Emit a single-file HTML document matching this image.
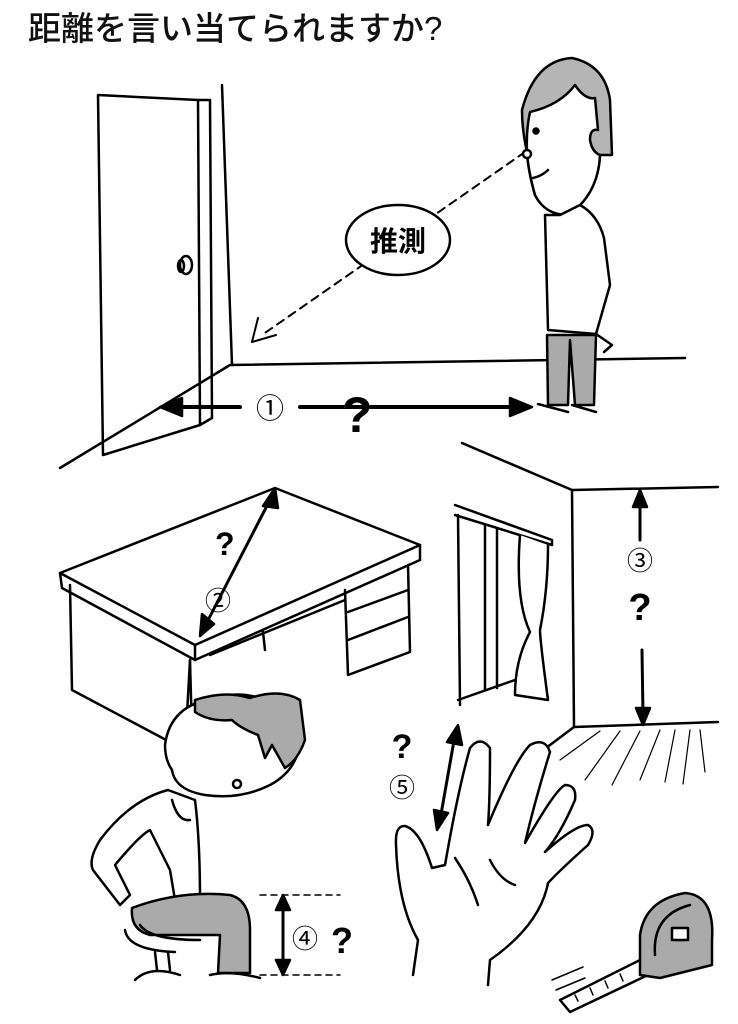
<!DOCTYPE html>
<html><head><meta charset="utf-8">
<style>
html,body{margin:0;padding:0;background:#fff;}
body{width:738px;height:1024px;overflow:hidden;position:relative;}
svg{position:absolute;left:0;top:0;}
text{font-family:"Liberation Sans","Noto Sans CJK JP",sans-serif;}
</style></head><body>
<svg width="738" height="1024" viewBox="0 0 738 1024" fill="none" stroke="#000" stroke-width="2.5" stroke-linecap="round" stroke-linejoin="round">
<text x="28" y="40" font-size="33" fill="#111" stroke="none" font-weight="500">距離を言い当てられますか?</text>

<!-- room top -->
<line x1="222" y1="85" x2="232" y2="365"/>
<polyline points="60,468 230,365 685,358"/>
<!-- door -->
<polygon points="98,95 198,100 200,425 103,455" />
<line x1="198" y1="100" x2="210" y2="100"/>
<line x1="210" y1="100" x2="212" y2="418"/>
<line x1="200" y1="425" x2="212" y2="418"/>
<ellipse cx="186" cy="265" rx="6" ry="9"/>
<ellipse cx="181" cy="266" rx="3" ry="6"/>

<!-- dashed line -->
<line x1="525" y1="152" x2="262" y2="335" stroke-dasharray="8,6" stroke-width="2"/>
<polyline points="258,318 252,342 276,335" stroke-width="2"/>
<ellipse cx="398" cy="240" rx="52" ry="35" fill="#fff"/>
<text x="398" y="251" font-size="28" font-weight="bold" text-anchor="middle" fill="#000" stroke="none">推測</text>

<!-- person standing -->
<path d="M522,110 Q535,60 572,58 Q605,65 610,100 L612,155 L600,155 Q598,195 568,215 Q545,215 535,195 Q528,170 527,152 Q522,130 522,110 Z" fill="#b5b5b5"/>
<path d="M530,112 Q560,105 575,85 Q585,100 595,98 L598,130 Q590,128 590,140 Q592,152 600,155 Q598,195 568,215 Q545,215 535,195 Q528,170 527,152 Q526,130 530,112 Z" fill="#fff"/>
<circle cx="536" cy="131" r="2.5" fill="#000"/>
<circle cx="527" cy="154" r="4" fill="#fff"/>
<path d="M533,178 Q542,176 548,170"/>
<path d="M545,215 L548,330 L596,334 L610,285 L604,238 Q598,215 580,205 L560,215 Z" fill="#fff"/>
<path d="M547,335 L548,405 L568,405 L570,340 L575,405 L594,405 L596,335 Z" fill="#aaa"/>
<path d="M596,334 L612,345 L604,352" />
<path d="M538,404 L568,412 M572,405 L596,412"/>

<!-- arrow 1 -->
<line x1="172" y1="407" x2="240" y2="407" stroke-width="4"/>
<polygon points="160,407 182,398 182,416" fill="#000"/>
<line x1="300" y1="407" x2="520" y2="407" stroke-width="4"/>
<polygon points="532,407 510,398 510,416" fill="#000"/>
<text x="270" y="418" font-size="28" text-anchor="middle" fill="#000" stroke="none">①</text>
<text x="357" y="432" font-size="50" font-weight="bold" text-anchor="middle" fill="#000" stroke="none">?</text>

<!-- desk -->
<polygon points="60,573 275,488 420,545 195,645" fill="#fff"/>
<polyline points="60,573 62,588 195,660 420,560 420,545"/>
<line x1="195" y1="645" x2="195" y2="660"/>
<polyline points="70,585 72,690 185,750 190,660"/>
<line x1="190" y1="660" x2="192" y2="735"/>
<polyline points="345,590 348,675 410,652 408,565"/>
<line x1="348" y1="612" x2="408" y2="590"/>
<line x1="348" y1="640" x2="408" y2="617"/>
<line x1="263" y1="632" x2="265" y2="650"/>
<line x1="210" y1="655" x2="345" y2="600"/>
<line x1="204" y1="628" x2="272" y2="496" stroke-width="3"/>
<polygon points="200,636 202,614 214,624" fill="#000"/>
<polygon points="275,488 263,506 278,508" fill="#000"/>
<text x="215" y="555" font-size="32" font-weight="bold" fill="#000" stroke="none">?</text>
<text x="218" y="610" font-size="26" text-anchor="middle" fill="#000" stroke="none">②</text>

<!-- room corner right -->
<polyline points="462,443 572,490 718,487"/>
<line x1="572" y1="490" x2="574" y2="727"/>
<line x1="574" y1="727" x2="718" y2="722"/>
<line x1="574" y1="727" x2="530" y2="760"/>
<g stroke-width="1.2">
<line x1="600" y1="731" x2="560" y2="760"/><line x1="620" y1="731" x2="585" y2="780"/>
<line x1="640" y1="731" x2="612" y2="785"/><line x1="660" y1="730" x2="640" y2="780"/>
<line x1="675" y1="730" x2="665" y2="782"/><line x1="690" y1="730" x2="683" y2="784"/>
<line x1="700" y1="730" x2="705" y2="772"/>
</g>
<polyline points="455,505 552,540 552,545 455,515"/>
<line x1="458" y1="515" x2="460" y2="705"/>
<line x1="485" y1="525" x2="485" y2="690"/>
<line x1="497" y1="528" x2="497" y2="688"/>
<path d="M520,535 Q515,600 530,632 Q515,660 515,695 L548,700 Q540,640 540,630 Q548,590 548,545" fill="#fff"/>
<line x1="458" y1="700" x2="515" y2="680"/>
<line x1="640" y1="500" x2="640" y2="540" stroke-width="3"/>
<polygon points="640,490 633,507 647,507" fill="#000"/>
<line x1="642" y1="650" x2="643" y2="715" stroke-width="3"/>
<polygon points="643,725 636,708 650,708" fill="#000"/>
<text x="640" y="570" font-size="26" text-anchor="middle" fill="#000" stroke="none">③</text>
<text x="640" y="620" font-size="38" font-weight="bold" text-anchor="middle" fill="#000" stroke="none">?</text>

<!-- seated person -->
<path d="M168,790 Q130,800 100,840 Q88,860 93,870 L120,905 L130,895 L115,865 Q140,835 150,830 L170,870 L175,900 L200,900 Q200,840 195,800 Z" fill="#fff"/>
<path d="M132,908 Q180,890 230,895 Q250,900 250,930 L250,973 L218,973 L220,935 Q180,935 150,935 Q130,930 132,908 Z" fill="#aaa"/>
<path d="M140,925 Q150,940 200,940"/>
<path d="M125,930 Q128,950 175,952"/>
<line x1="155" y1="952" x2="157" y2="970"/>
<line x1="168" y1="952" x2="170" y2="970"/>
<path d="M135,980 Q150,965 180,975 M210,975 Q230,970 260,978"/>
<path d="M165,745 Q170,705 215,698 Q240,690 265,700 Q295,705 300,740 Q298,770 270,785 Q240,800 205,795 Q175,790 172,770 Q165,760 165,745 Z" fill="#fff"/>
<path d="M195,700 Q225,690 250,698 Q280,688 300,700 L305,740 Q298,760 285,768 L272,745 L265,758 L258,735 Q240,728 232,720 Q210,722 195,712 Z" fill="#aaa"/>
<circle cx="237" cy="784" r="4" fill="#fff"/>
<path d="M172,800 Q178,822 190,820" />
<line x1="260" y1="895" x2="340" y2="895" stroke-dasharray="6,5" stroke-width="1.5"/>
<line x1="260" y1="975" x2="340" y2="975" stroke-dasharray="6,5" stroke-width="1.5"/>
<line x1="283" y1="905" x2="283" y2="965" stroke-width="3"/>
<polygon points="283,895 276,910 290,910" fill="#000"/>
<polygon points="283,975 276,960 290,960" fill="#000"/>
<text x="305" y="948" font-size="26" text-anchor="middle" fill="#000" stroke="none">④</text>
<text x="342" y="953" font-size="36" font-weight="bold" text-anchor="middle" fill="#000" stroke="none">?</text>

<!-- hand -->
<path d="M413,975 L418,940 Q398,905 396,845 Q395,825 405,826 Q420,830 432,868 L445,865 Q458,790 470,748 Q480,735 490,748 Q490,800 488,825 Q515,760 530,745 Q545,737 550,752 Q535,800 525,843 Q555,790 565,785 Q577,785 575,800 Q560,835 545,852 Q575,825 588,825 Q597,830 588,845 Q560,870 548,883 Q540,925 490,960 L488,985" fill="#fff"/>
<path d="M455,858 Q470,880 478,905 M490,860 Q500,880 515,885"/>
<line x1="440" y1="820" x2="455" y2="735" stroke-width="3"/>
<polygon points="458,725 447,742 462,745" fill="#000"/>
<polygon points="437,830 434,810 448,813" fill="#000"/>
<text x="402" y="758" font-size="34" font-weight="bold" text-anchor="middle" fill="#000" stroke="none">?</text>
<text x="402" y="797" font-size="26" text-anchor="middle" fill="#000" stroke="none">⑤</text>

<!-- tape measure -->
<polygon points="560,1000 640,960 648,975 570,1012" fill="#fff"/>
<g stroke-width="1.5"><line x1="575" y1="995" x2="578" y2="1001"/><line x1="590" y1="988" x2="593" y2="995"/><line x1="605" y1="981" x2="608" y2="988"/><line x1="620" y1="974" x2="623" y2="981"/></g>
<path d="M640,975 L640,935 Q645,900 685,893 Q715,895 712,940 L712,965 L660,978 Z" fill="#aaa"/>
<path d="M655,955 Q652,915 690,905"/>
<rect x="672" y="928" width="16" height="12" fill="#fff"/>
<path d="M552,980 L583,967 M556,990 L585,978" stroke-width="1.5"/>
</svg>
</body></html>
